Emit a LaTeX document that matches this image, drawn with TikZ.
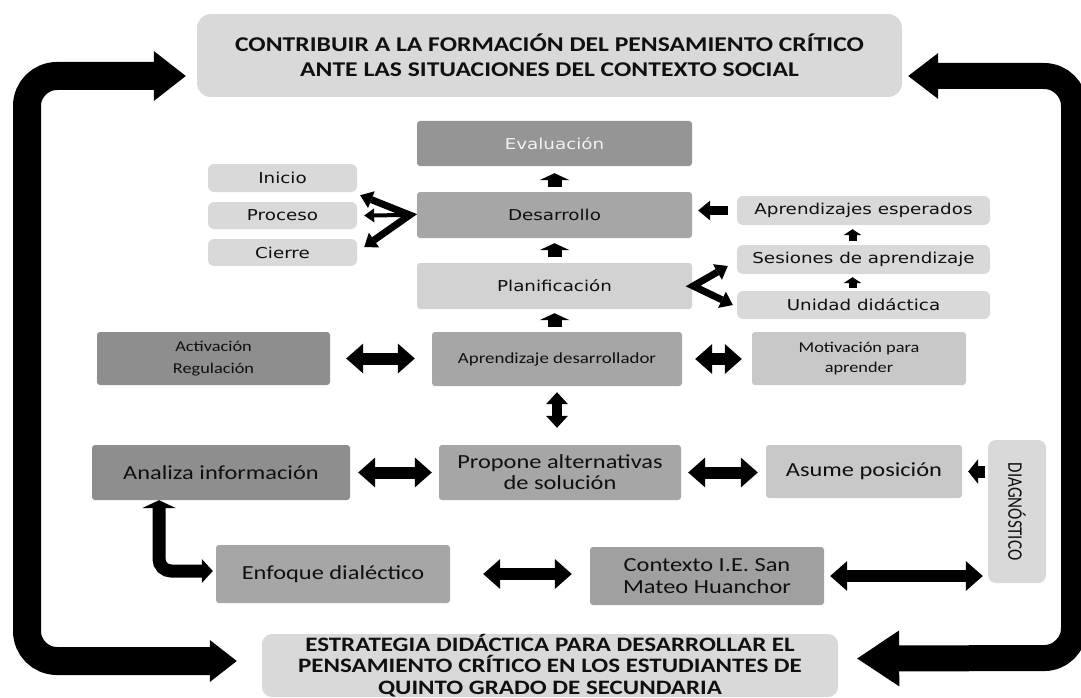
\documentclass[tikz,border=0pt]{standalone}
\usepackage{fontspec}
\usepackage{graphicx}
\usetikzlibrary{arrows.meta}
\newfontfamily\calf[FakeStretch=1.22]{Carlito}
\newfontfamily\calu{Carlito}
\newfontfamily\verf[FakeStretch=1.22]{DejaVu Sans}
\newcommand\fsz[2]{\fontsize{#1}{#2}\selectfont}
\definecolor{gA}{HTML}{D9D9D9}
\definecolor{gB}{HTML}{D2D2D2}
\definecolor{gC}{HTML}{C8C8C8}
\definecolor{gD}{HTML}{A6A6A6}
\definecolor{gE}{HTML}{A0A0A0}
\definecolor{gF}{HTML}{959595}
\definecolor{gG}{HTML}{8E8E8E}
\definecolor{txt}{HTML}{101010}
\tikzset{
  bx/.style={inner sep=0pt, align=center, text=txt, font=\calf},
  sq/.style={bx, rounded corners=3pt},
  rd/.style={bx, rounded corners=6pt},
  uparr/.style={draw=black, line width=14pt, -{Triangle[length=7pt,width=30pt,line width=0pt]}},
  suparr/.style={draw=black, line width=8pt, -{Triangle[length=6pt,width=18pt,line width=0pt]}},
  larr/.style={draw=black, line width=9pt, -{Triangle[length=12pt,width=20pt,line width=0pt]}},
  harr/.style={draw=black, line width=12pt, {Triangle[length=17pt,width=30pt,line width=0pt]}-{Triangle[length=17pt,width=30pt,line width=0pt]}},
  varr/.style={draw=black, line width=10pt, {Triangle[length=12pt,width=22pt,line width=0pt]}-{Triangle[length=12pt,width=22pt,line width=0pt]}},
  sarr/.style={draw=black, line width=12pt, -{Triangle[length=10pt,width=25pt,line width=0pt]}},
  fanarr/.style={draw=black, line width=#1, line join=miter, {Triangle[length=12pt,width=18pt,line width=0pt]}-{Triangle[length=12pt,width=18pt,line width=0pt]}},
  fanone/.style={draw=black, line width=4pt, -{Triangle[length=10pt,width=14pt,line width=0pt]}},
  larrow/.style={draw=black, line width=13pt, rounded corners=12pt, {Triangle[length=8pt,width=34pt,line width=0pt]}-{Triangle[length=11pt,width=24pt,line width=0pt]}},
  loopL/.style={draw=black, line width=28pt, rounded corners=30pt, {Triangle[length=32pt,width=50pt,line width=0pt]}-{Triangle[length=27pt,width=42pt,line width=0pt]}},
  loopR/.style={draw=black, line width=26pt, rounded corners=30pt, {Triangle[length=30pt,width=46pt,line width=0pt]}-{Triangle[length=42pt,width=56pt,line width=0pt]}}
}
\begin{document}
\begin{tikzpicture}[x=1pt,y=-1pt]
\useasboundingbox (0,0) rectangle (1081,698);
\fill[white] (0,0) rectangle (1081,698);
% top and bottom
\node[bx, fill=gA, rounded corners=14pt, minimum width=705pt, minimum height=83pt, font=\calf\bfseries\fsz{21}{25}] (top) at (549.5,55.5) {CONTRIBUIR A LA FORMACIÓN DEL PENSAMIENTO CRÍTICO\\ANTE LAS SITUACIONES DEL CONTEXTO SOCIAL};
\node[bx, fill=gA, rounded corners=10pt, minimum width=576pt, minimum height=63pt, font=\calf\bfseries\fsz{20.5}{21.5}] (bot) at (550,665.5) {\rule{0pt}{0pt}ESTRATEGIA DIDÁCTICA PARA DESARROLLAR EL\\PENSAMIENTO CRÍTICO EN LOS ESTUDIANTES DE\\QUINTO GRADO DE SECUNDARIA};
% central column
\node[sq, fill=gF, minimum width=275pt, minimum height=45pt, text=white!95!black, font=\verf\fsz{15}{18}] (eva) at (554.5,143.5) {Evaluación};
\node[sq, fill=gD, minimum width=275pt, minimum height=46pt, font=\verf\fsz{15}{18}] (des) at (554.5,215) {Desarrollo};
\node[sq, fill=gB, minimum width=275pt, minimum height=46pt, font=\verf\fsz{15}{18}] (pla) at (554.5,286) {Planificación};
% left small
\node[rd, fill=gA, minimum width=149pt, minimum height=28pt, font=\verf\fsz{15}{18}] (ini) at (282.5,178) {Inicio};
\node[rd, fill=gA, minimum width=149pt, minimum height=27pt, font=\verf\fsz{15}{18}] (pro) at (282.5,215.5) {Proceso};
\node[rd, fill=gA, minimum width=149pt, minimum height=27pt, font=\verf\fsz{15}{18}] (cie) at (282.5,252.5) {Cierre};
% right small
\node[rd, fill=gA, minimum width=253pt, minimum height=29pt, font=\verf\fsz{15}{18}] (ape) at (863.5,210.5) {Aprendizajes esperados};
\node[rd, fill=gA, minimum width=253pt, minimum height=29pt, font=\verf\fsz{15}{18}] (ses) at (863.5,259.5) {Sesiones de aprendizaje};
\node[rd, fill=gA, minimum width=253pt, minimum height=28pt, font=\verf\fsz{15}{18}] (uni) at (863.5,305) {Unidad didáctica};
% row 1
\node[sq, fill=gG, minimum width=233pt, minimum height=53pt, font=\calf\fsz{15}{22}] (act) at (213.5,358.5) {Activación\\Regulación};
\node[sq, fill=gD, minimum width=250pt, minimum height=54pt, font=\calf\fsz{15.5}{19}] (apd) at (557,359) {Aprendizaje desarrollador};
\node[sq, fill=gC, minimum width=214pt, minimum height=53pt, font=\calf\fsz{15}{19.5}] (mot) at (859,358.5) {Motivación para\\aprender};
% row 2
\node[sq, fill=gG, minimum width=258pt, minimum height=55pt, font=\calf\fsz{20}{21}] (ana) at (221,472.5) {Analiza información};
\node[sq, fill=gD, minimum width=242pt, minimum height=55pt, font=\calf\fsz{20}{21}] (prp) at (560,472.5) {Propone alternativas\\de solución};
\node[sq, fill=gC, minimum width=196pt, minimum height=53pt, font=\calf\fsz{20}{21}] (asu) at (864,471.5) {Asume posición};
\node[bx, fill=gA, rounded corners=8pt, minimum width=58pt, minimum height=143pt] (dia) at (1017,511.5) {\rotatebox{-90}{\scalebox{1}[1.22]{\calu\fsz{17}{20}DIAGNÓSTICO}}};
% row 3
\node[sq, fill=gD, minimum width=234pt, minimum height=58pt, font=\calf\fsz{20}{22}] (enf) at (333,574) {Enfoque dialéctico};
\node[sq, fill=gE, minimum width=234pt, minimum height=58pt, font=\calf\fsz{20}{22}] (ctx) at (707,576) {Contexto I.E. San\\Mateo Huanchor};
% vertical chain arrows
\draw[uparr, shorten <=5pt, shorten >=7pt] (des.north) -- (eva.south);
\draw[uparr, shorten <=6pt, shorten >=5pt] (pla.north) -- (des.south);
\draw[uparr, shorten <=5pt, shorten >=4pt] (apd.north -| pla.south) -- (pla.south);
\draw[suparr, shorten <=4pt, shorten >=4pt] ([xshift=-11pt]ses.north) -- ([xshift=-11pt]ape.south);
\draw[suparr, shorten <=3pt, shorten >=3pt] ([xshift=-11pt]uni.north) -- ([xshift=-11pt]ses.south);
\draw[larr, shorten <=9pt, shorten >=6pt] (ape.west) -- (ape.west -| des.east);
% fans
\coordinate (fv) at ([xshift=-7pt]des.west);
\draw[fanarr=7pt] ([xshift=3pt,yshift=-3pt]ini.south east) -- (fv) -- ([xshift=7pt,yshift=5.5pt]cie.east);
\draw[fanone] (fv) -- ([xshift=7pt]pro.east);
\coordinate (pv) at ([xshift=1pt]pla.east);
\draw[fanarr=7pt] ([xshift=-9pt,yshift=-6.5pt]ses.west) -- (pv) -- ([xshift=-4pt]uni.west);
% double arrows
\draw[harr, shorten <=16pt, shorten >=17pt] (act.east) -- (act.east -| apd.west);
\draw[harr, shorten <=13pt, shorten >=10pt] (apd.east) -- (apd.east -| mot.west);
\draw[varr, shorten <=6pt, shorten >=17pt] (apd.south) -- (apd.south |- prp.north);
\draw[harr, shorten <=8pt, shorten >=7pt] (ana.east) -- (ana.east -| prp.west);
\draw[harr, shorten <=7pt, shorten >=8pt] (prp.east) -- (prp.east -| asu.west);
\draw[sarr, shorten <=3pt, shorten >=6pt] (asu.east -| dia.west) -- (asu.east);
\draw[harr, shorten <=33pt, shorten >=18pt] (enf.east) -- (enf.east -| ctx.west);
\draw[harr, shorten <=6pt, shorten >=5pt] (ctx.east) -- (ctx.east -| dia.west);
\draw[larrow] ([xshift=-62pt]ana.south) |- ([xshift=-3pt,yshift=3pt]enf.west);
% big loops
\coordinate (L1) at (27,76);
\coordinate (L2) at (27,661);
\coordinate (R1) at (1074,76);
\coordinate (R2) at (1074,658);
\draw[loopL] ([xshift=-11pt,yshift=-20.5pt]top.west) -- (L1) -- (L2) -- ([xshift=-25pt,yshift=4.5pt]bot.west);
\draw[loopR] ([xshift=6pt,yshift=-20.5pt]top.east) -- (R1) -- (R2) -- ([xshift=19pt,yshift=7pt]bot.east);
\end{tikzpicture}
\end{document}
